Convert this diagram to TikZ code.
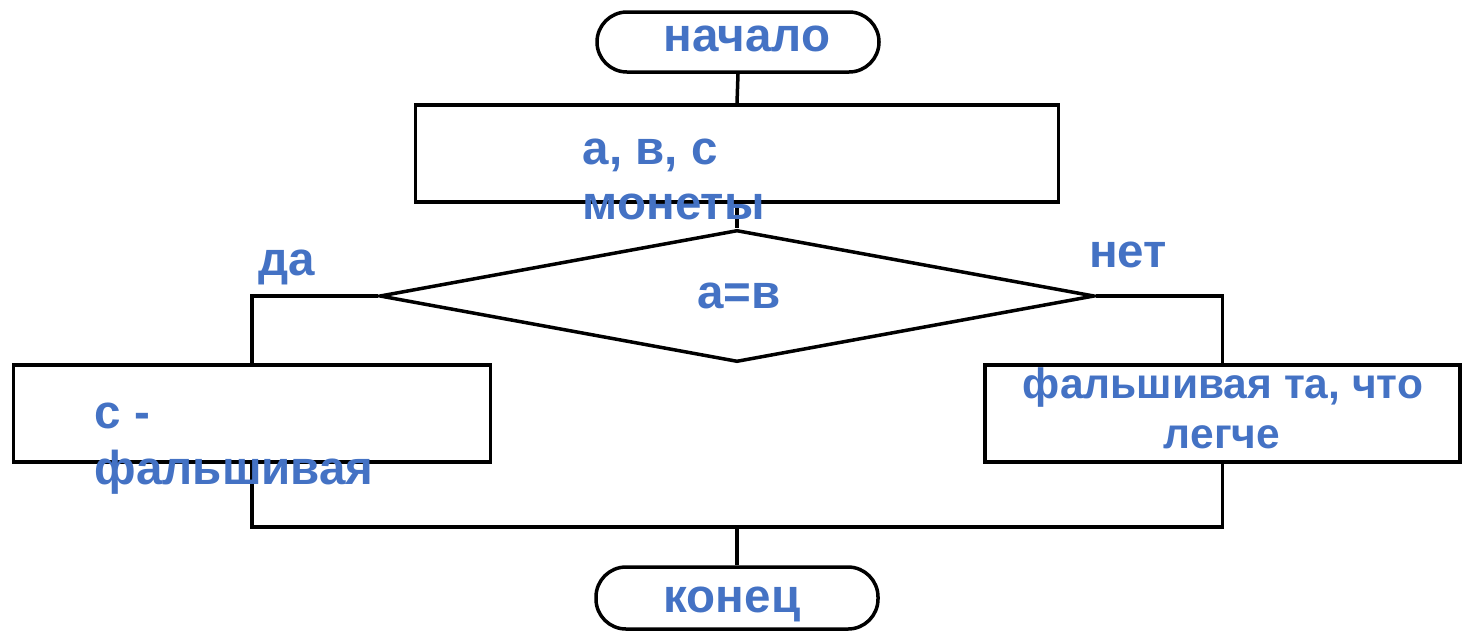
\documentclass[tikz,border=0pt]{standalone}
\usepackage{fontspec}
\setmainfont{Liberation Sans}
\usetikzlibrary{shapes.geometric}
\definecolor{labelblue}{RGB}{68,114,196}
\begin{document}
\begin{tikzpicture}[x=1pt,y=-1pt,
  line width=3.5pt,
  terminal/.style={draw, rectangle, rounded corners=30pt, minimum width=282pt, minimum height=60pt, inner sep=0pt},
  procbox/.style={draw, rectangle, minimum height=97pt, inner sep=0pt},
  decision/.style={draw, diamond, minimum width=715pt, minimum height=132pt, inner sep=0pt, aspect=5.4},
  lbl/.style={text=labelblue, font=\fontsize{47.5}{53}\selectfont\bfseries, inner sep=0pt},
  smalllbl/.style={text=labelblue, font=\fontsize{42.5}{50}\selectfont\bfseries, inner sep=0pt}
]
\useasboundingbox (0,0) rectangle (1466,633);

% shapes
\node[terminal] (start) at (738,42) {};
\node[procbox, minimum width=643pt] (input) at (737,153.5) {};
\node[decision] (cond) at (737,296) {};
\node[procbox, minimum width=477pt] (yesbox) at (252,413.5) {};
\node[procbox, minimum width=475pt] (nobox) at (1222.5,413.5) {};
\node[terminal, minimum height=62pt] (stop) at (737,598) {};
\coordinate (merge) at (737,527);

% connectors
\draw (start.south) -- (input.north);
\draw (input.south) -- (cond.north);
\draw (cond.west) -| (yesbox.north);
\draw (cond.east) -| (nobox.north);
\draw (yesbox.south) |- (merge) -| (nobox.south);
\draw (merge) -- (stop.north);

% labels
\node[lbl, anchor=base] (tstart) at (747,51) {начало};
\node[lbl, anchor=base west] (tin1) at (581,164) {а, в, с};
\node[lbl, anchor=base west] (tin2) at (581,219) {монеты};
\node[lbl, anchor=base] (tyes) at (287,275) {да};
\node[lbl, anchor=base] (tno) at (1128,267) {нет};
\node[lbl, anchor=base] (tcond) at (739,308) {а=в};
\node[lbl, anchor=base west] (tl1) at (93,428) {с -};
\node[lbl, anchor=base west] (tl2) at (93,484) {фальшивая};
\node[smalllbl, anchor=base] (tr1) at (1223,398) {фальшивая та, что};
\node[smalllbl, anchor=base] (tr2) at (1222,448) {легче};
\node[lbl, anchor=base] (tstop) at (732,612) {конец};
\end{tikzpicture}
\end{document}
